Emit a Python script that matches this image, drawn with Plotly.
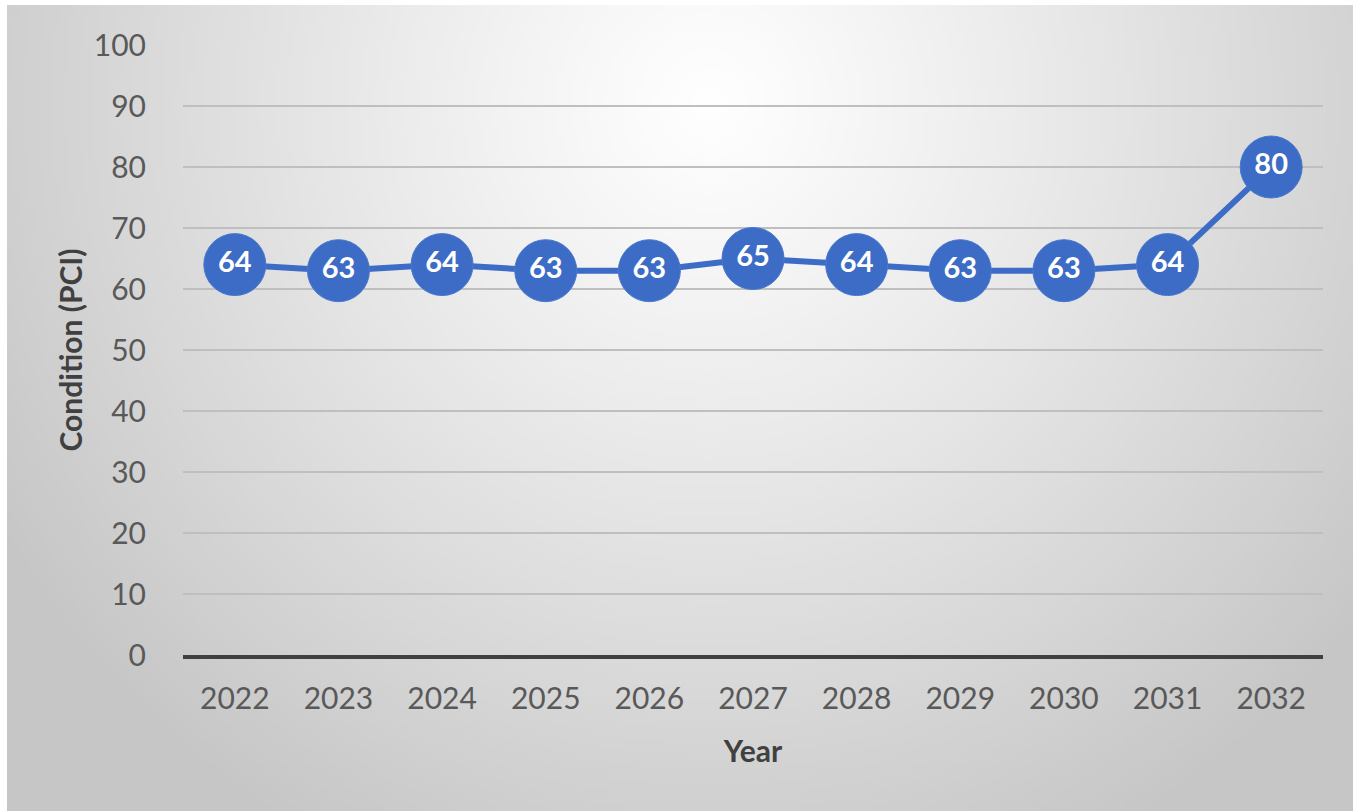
import base64, struct, zlib
import numpy as np
import plotly.graph_objects as go

years = ["2022", "2023", "2024", "2025", "2026", "2027", "2028", "2029", "2030", "2031", "2032"]
pci = [64, 63, 64, 63, 63, 65, 64, 63, 63, 64, 80]
y_ticks = [0, 10, 20, 30, 40, 50, 60, 70, 80, 90, 100]

# --- radial gradient background as a small PNG ---
W, H = 270, 162
yy, xx = np.mgrid[0:H, 0:W]
cx, cy = W * 0.52, H * 0.12
d = np.sqrt(((xx - cx) / (W * 0.62)) ** 2 + ((yy - cy) / (H * 1.05)) ** 2)
d = np.clip(d, 0, 1)
val = (255 - 57 * d ** 1.1).astype(np.uint8)
raw = b"".join(b"\x00" + bytes(np.stack([val[r]] * 3, axis=-1).flatten()) for r in range(H))

def chunk(t, data):
    c = struct.pack(">I", len(data)) + t + data
    return c + struct.pack(">I", zlib.crc32(t + data) & 0xffffffff)

png = b"\x89PNG\r\n\x1a\n" + chunk(b"IHDR", struct.pack(">IIBBBBB", W, H, 8, 2, 0, 0, 0)) \
    + chunk(b"IDAT", zlib.compress(raw, 9)) + chunk(b"IEND", b"")
uri = "data:image/png;base64," + base64.b64encode(png).decode()

L, R, T, B = 183, 30, 45, 156
PW, PH = 1353 - L - R, 811 - T - B

blue = "#3D6CC6"
fig = go.Figure()
fig.add_trace(go.Scatter(
    x=years, y=pci, mode="lines+markers+text",
    line=dict(color=blue, width=6),
    marker=dict(size=62, color=blue, line=dict(color="#4A78CC", width=1)),
    text=[str(v) for v in pci], textposition="middle center",
    textfont=dict(family="Lato", size=29, color="white", weight="bold"),
    cliponaxis=False, hoverinfo="skip",
))

fig.add_layout_image(dict(
    source=uri, xref="paper", yref="paper",
    x=(7 - L) / PW, y=(811 - B - 5) / PH,
    sizex=1346 / PW, sizey=806 / PH,
    xanchor="left", yanchor="top", sizing="stretch", layer="below",
))

fig.update_layout(
    width=1353, height=811,
    margin=dict(l=L, r=R, t=T, b=B),
    paper_bgcolor="white", plot_bgcolor="rgba(0,0,0,0)",
    showlegend=False,
    font=dict(family="Lato", color="#595959"),
)
fig.update_xaxes(
    type="category", range=[-0.5, len(years) - 0.5],
    showgrid=False, showline=True, linecolor="#404040", linewidth=4,
    tickfont=dict(size=30, color="#595959"), ticks="outside", ticklen=14, tickcolor="rgba(0,0,0,0)",
    title=dict(text="Year", font=dict(size=30, color="#404040", weight="bold"), standoff=28),
    zeroline=False,
)
fig.update_yaxes(
    range=[0, 100], tickvals=y_ticks, showgrid=True, gridcolor="#BFBFBF", gridwidth=2,
    zeroline=False, showline=False,
    tickfont=dict(size=30, color="#595959"), ticks="outside", ticklen=30, tickcolor="rgba(0,0,0,0)",
    title=dict(text="Condition (PCI)", font=dict(size=30, color="#404040", weight="bold"), standoff=2),
)
fig.write_html("out.html")
